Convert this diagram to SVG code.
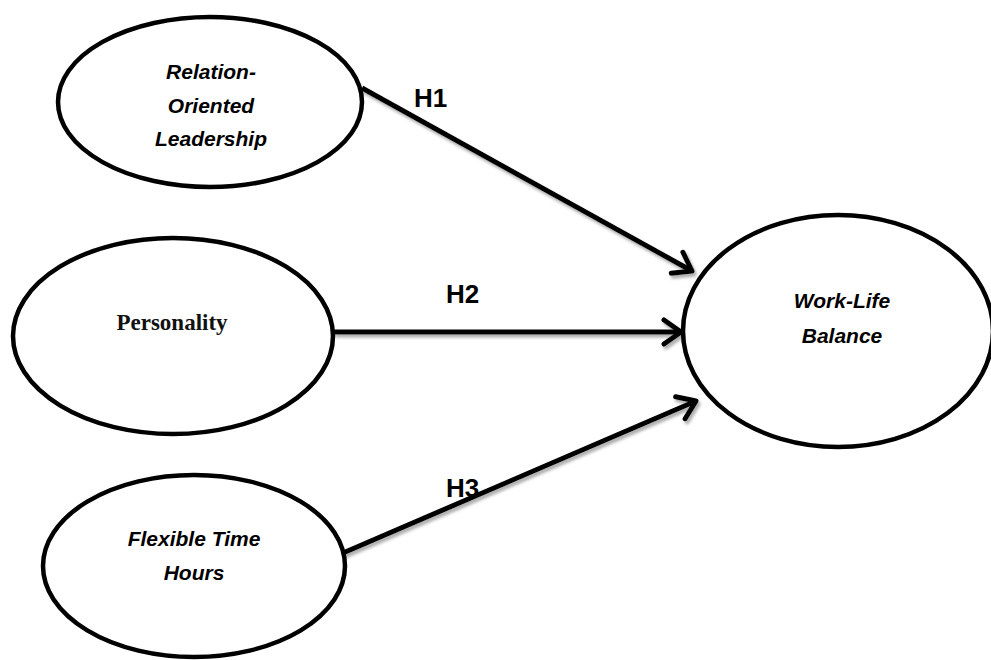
<svg xmlns="http://www.w3.org/2000/svg" width="991" height="660" viewBox="0 0 991 660">
  <style>
    .node { fill: #ffffff; stroke: #000000; stroke-width: 4.5; }
    .lbl { font-family: "Liberation Sans", Arial, sans-serif; font-weight: bold; font-style: italic; font-size: 21px; fill: #000; text-anchor: middle; }
    .serif { font-family: "Liberation Serif", "Times New Roman", serif; font-weight: bold; font-size: 23px; fill: #111; text-anchor: middle; }
    .h { font-family: "Liberation Sans", Arial, sans-serif; font-weight: bold; font-size: 26px; fill: #000; }
    .edge { stroke: #000; stroke-width: 5; fill: none; marker-end: url(#arrow); }
  </style>
  <defs>
    <marker id="arrow" markerUnits="userSpaceOnUse" viewBox="0 0 26 30" refX="22" refY="15" markerWidth="26" markerHeight="30" orient="auto">
      <path d="M5,3 L22,15 L5,27" fill="none" stroke="#000" stroke-width="5" stroke-linecap="round" stroke-linejoin="round"/>
    </marker>
    <filter id="shadow" x="-10%" y="-20%" width="120%" height="140%">
      <feDropShadow dx="2" dy="3" stdDeviation="1.5" flood-color="#777" flood-opacity="0.6"/>
    </filter>
  </defs>

  <g id="connectors" filter="url(#shadow)">
    <line class="edge" x1="362" y1="88" x2="692" y2="271"/>
    <line class="edge" x1="333" y1="332" x2="681" y2="332"/>
    <line class="edge" x1="343" y1="553" x2="696" y2="401"/>
  </g>

  <g id="edge-labels">
    <text class="h" x="414" y="107">H1</text>
    <text class="h" x="446" y="303">H2</text>
    <text class="h" x="446" y="497">H3</text>
  </g>

  <g id="node-relation">
    <ellipse class="node" cx="210" cy="102" rx="152" ry="85"/>
    <text class="lbl" x="211" y="79">Relation-</text>
    <text class="lbl" x="211" y="113">Oriented</text>
    <text class="lbl" x="211" y="146">Leadership</text>
  </g>

  <g id="node-personality">
    <ellipse class="node" cx="173" cy="336" rx="160" ry="98"/>
    <text class="serif" x="172" y="330">Personality</text>
  </g>

  <g id="node-flexible">
    <ellipse class="node" cx="194" cy="566" rx="151" ry="91"/>
    <text class="lbl" x="194" y="546">Flexible Time</text>
    <text class="lbl" x="194" y="580">Hours</text>
  </g>

  <g id="node-worklife">
    <ellipse class="node" cx="838" cy="331" rx="155" ry="116"/>
    <text class="lbl" x="842" y="308">Work-Life</text>
    <text class="lbl" x="842" y="343">Balance</text>
  </g>
</svg>
